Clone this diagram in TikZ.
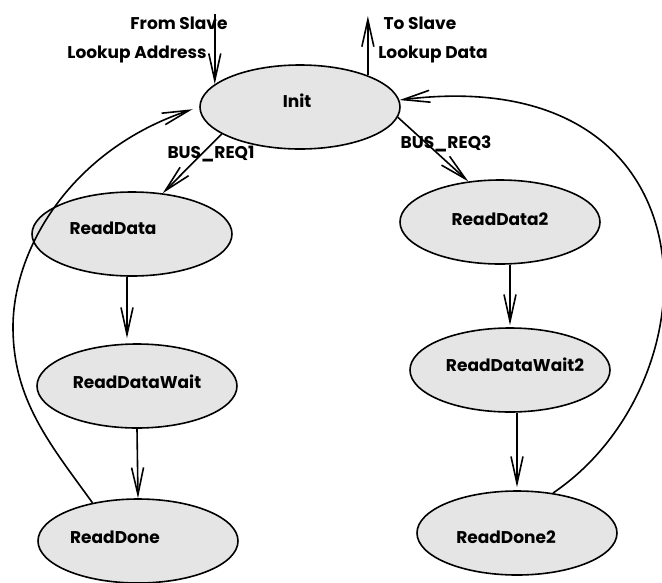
\documentclass[tikz,border=0pt]{standalone}
\usepackage{fontspec}
\setmainfont{Poppins}
\usetikzlibrary{shapes.geometric,arrows.meta}

\begin{document}
\begin{tikzpicture}[x=1pt,y=1pt,yscale=-1,
  state/.style={draw,ellipse,line width=1.6pt,fill=gray!20,minimum width=200pt,minimum height=84pt,inner sep=0pt},
  lbl/.style={font=\fontsize{17}{20}\selectfont\bfseries,inner sep=0pt},
  arrow/.style={line width=1.6pt,-{Straight Barb[length=27pt,width=12pt,line width=1.6pt]}}]
\useasboundingbox (0,0) rectangle (662,582);
%Shape: Ellipse
\draw (300,107) node[state] (init) {};
\draw (132,234) node[state] (readData) {};
\draw (137,386) node[state] (readDataWait) {};
\draw (138,541) node[state] (readDone) {};
\draw (500,222) node[state] (readData2) {};
\draw (510,370) node[state] (readDataWait2) {};
\draw (517,533) node[state] (readDone2) {};

% Text Node
\draw (297,101) node[lbl] (tInit) {Init};
\draw (113,228) node[lbl] (tReadData) {ReadData};
\draw (137,382) node[lbl] (tReadDataWait) {ReadDataWait};
\draw (115,537) node[lbl] (tReadDone) {ReadDone};
\draw (500,219) node[lbl] (tReadData2) {ReadData2};
\draw (515,365) node[lbl] (tReadDataWait2) {ReadDataWait2};
\draw (506,537) node[lbl] (tReadDone2) {ReadDone2};
% Text Node
\draw (179,23) node[lbl] (fromSlave) {From Slave};
\draw (137,54) node[lbl] (lookupAddr) {Lookup Address};
\draw (420,23) node[lbl] (toSlave) {To Slave};
\draw (433,54) node[lbl] (lookupData) {Lookup Data};
\draw (211,154) node[lbl] (busReq1) {BUS\_REQ1};
\draw (446,144) node[lbl] (busReq3) {BUS\_REQ3};

%Straight Lines
\coordinate (fromS) at (init.165 |- 0,14);
\coordinate (toS) at (init.25 |- 0,16);
\draw[arrow] (fromS) -- (init.165);
\draw[arrow] (init.25) -- (toS);
\draw[arrow] (init.199) -- (readData.53);
\draw[arrow] (init.-6) -- (readData2.128);
\draw[arrow,shorten >=5pt] ([xshift=-5pt]readData.south) -- ([xshift=-5pt]readData.south |- readDataWait.north);
\draw[arrow] (readDataWait.south) -- (readDone.north);
\draw[arrow,shorten >=2pt] (readDataWait2.north |- readData2.south) -- (readDataWait2.north);
\draw[arrow,shorten >=3pt] (readDone2.north |- readDataWait2.south) -- (readDone2.north);

%Curve Lines
\draw[arrow,shorten >=7pt] (readDone.140) .. controls (50,444) and (13,400) .. (13,327)
  .. controls (13,250) and (70,150) .. (init.west);
\draw[arrow] (readDone2.48) .. controls (720,380) and (720,60) .. (init.4);
\end{tikzpicture}
\end{document}
